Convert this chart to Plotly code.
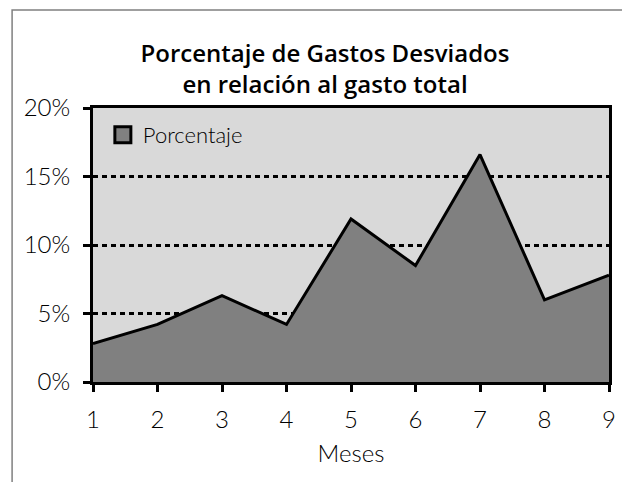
import plotly.graph_objects as go

meses = [1, 2, 3, 4, 5, 6, 7, 8, 9]
porcentaje = [0.028, 0.042, 0.063, 0.042, 0.119, 0.085, 0.166, 0.060, 0.078]
y_ticks = [0, 0.05, 0.10, 0.15, 0.20]
y_tick_labels = ["0%", "5%", "10%", "15%", "20%"]

W, H = 622, 482
L, R, T, B = 93, 6, 108, 100
pw, ph = W - L - R, H - T - B

def px2paper_x(px):
    return (px - L) / pw

def px2paper_y(py):
    return (H - B - py) / ph

fig = go.Figure()
fig.add_trace(go.Scatter(
    x=meses, y=porcentaje, mode="lines", fill="tozeroy",
    fillcolor="#808080", line=dict(color="black", width=3),
    showlegend=False, name="Porcentaje"))
fig.add_trace(go.Scatter(
    x=[None], y=[None], mode="markers", name="Porcentaje",
    marker=dict(symbol="square", size=16, color="#808080",
                line=dict(color="black", width=3)),
    showlegend=True))

fig.add_shape(type="rect", xref="paper", yref="paper",
              x0=px2paper_x(11), x1=px2paper_x(660),
              y0=px2paper_y(520), y1=px2paper_y(10),
              line=dict(color="#808080", width=1.5), layer="below")

fig.update_layout(
    width=W, height=H,
    margin=dict(l=L, r=R, t=T, b=B),
    paper_bgcolor="white", plot_bgcolor="#d9d9d9",
    font=dict(family="Lato", color="black", size=24, weight=300),
    title=dict(text="Porcentaje de Gastos Desviados<br>en relación al gasto total",
               x=325 / W, xanchor="center",
               y=1 - 62 / H, yanchor="middle",
               font=dict(family="Open Sans", size=24, color="black", weight=600)),
    legend=dict(x=px2paper_x(103), y=px2paper_y(114), xanchor="left", yanchor="top",
                bgcolor="rgba(0,0,0,0)", font=dict(family="Lato", size=22, weight=300),
                itemsizing="trace", itemwidth=30),
    xaxis=dict(range=[1, 9], tickvals=meses, showgrid=False, zeroline=False,
               showline=True, linecolor="black", linewidth=3, mirror=True,
               ticks="outside", ticklen=7, tickwidth=3, tickcolor="black",
               ticklabelstandoff=7,
               title=dict(text="Meses", font=dict(size=24, weight=300), standoff=14)),
    yaxis=dict(range=[0, 0.2], tickvals=y_ticks, ticktext=y_tick_labels,
               showgrid=True, gridcolor="black", gridwidth=2.5, griddash="5px,4px",
               zeroline=False,
               showline=True, linecolor="black", linewidth=3, mirror=True,
               ticks="outside", ticklen=7, tickwidth=3, tickcolor="black",
               ticklabelstandoff=8),
)

fig.write_html("out.html", config={"displayModeBar": False},
               post_script="document.body.style.margin='0';")
